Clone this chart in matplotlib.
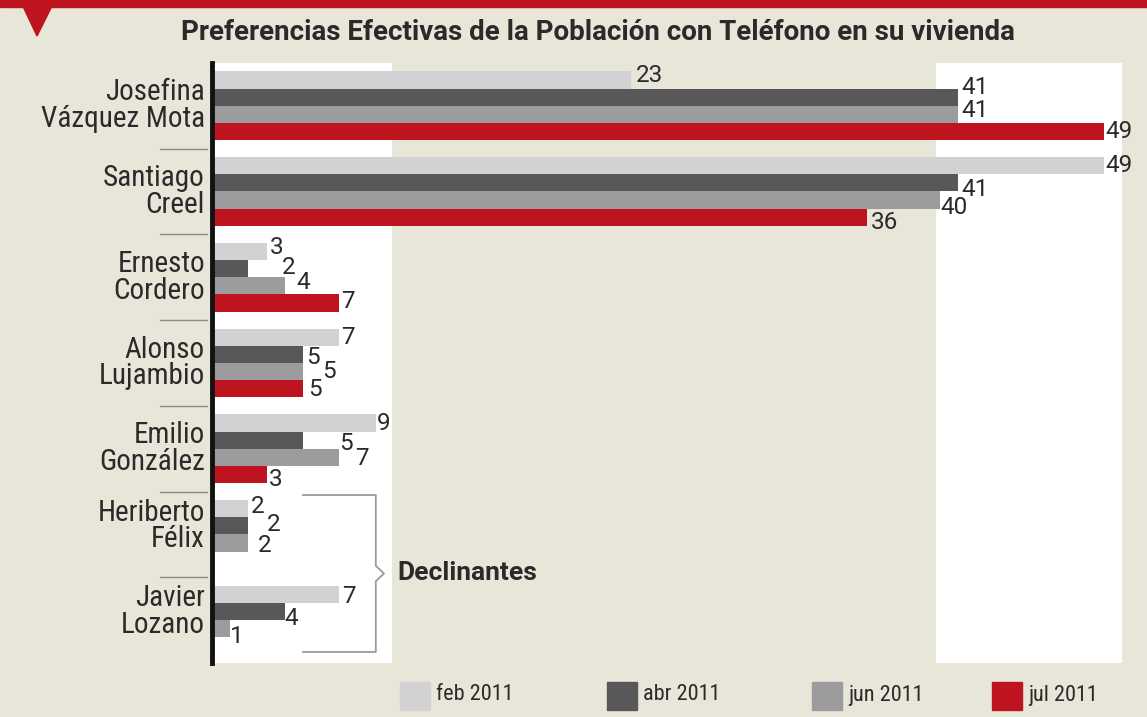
import numpy as np
import matplotlib
matplotlib.use("Agg")
import matplotlib.pyplot as plt
import matplotlib.font_manager as fm
import matplotlib.transforms as mtransforms
from matplotlib.patches import Rectangle, Polygon

# ---------------- data ----------------
candidates = ["Josefina\nVázquez Mota", "Santiago\nCreel", "Ernesto\nCordero",
              "Alonso\nLujambio", "Emilio\nGonzález", "Heriberto\nFélix",
              "Javier\nLozano"]
series_names = ["feb 2011", "abr 2011", "jun 2011", "jul 2011"]
feb_2011 = [23, 49, 3, 7, 9, 2, 7]
abr_2011 = [41, 41, 2, 5, 5, 2, 4]
jun_2011 = [41, 40, 4, 5, 7, 2, 1]
jul_2011 = [49, 36, 7, 5, 3, np.nan, np.nan]
title = "Preferencias Efectivas de la Población con Teléfono en su vivienda"
bracket_label = "Declinantes"

# ---------------- style ----------------
colors = ["#d2d2d4", "#58585b", "#9c9c9f", "#be1420"]
bg = "#e8e6d9"
red = "#be1420"
txt = "#2a2a2a"

names = {f.name for f in fm.fontManager.ttflist}
cond = next((n for n in ["Roboto Condensed", "Liberation Sans Narrow",
                         "DejaVu Sans"] if n in names), "DejaVu Sans")
wide = "Roboto" if "Roboto" in names else "DejaVu Sans"
plt.rcParams["font.family"] = [cond, "DejaVu Sans"]

# label offsets in pixels (dx, dy) per group/series
label_off = {
    (0, 0): (5, 5), (0, 1): (3, 10), (0, 2): (3, 4), (0, 3): (2, 0),
    (1, 0): (2, 0), (1, 1): (3, -7), (1, 2): (0, -7), (1, 3): (4, -5),
    (2, 0): (3, 4), (2, 1): (33, 1), (2, 2): (12, 3), (2, 3): (2, 1),
    (3, 0): (2, 0), (3, 1): (3, -3), (3, 2): (19, 0), (3, 3): (5, -1),
    (4, 0): (1, 0), (4, 1): (36, -3), (4, 2): (16, -1), (4, 3): (2, -5),
    (5, 0): (2, 2), (5, 1): (18, 1), (5, 2): (9, -2),
    (6, 0): (3, -2), (6, 1): (0, -7), (6, 2): (0, -8),
}

W, H = 1147, 717
fig = plt.figure(figsize=(W / 100, H / 100), dpi=100)
fig.patch.set_facecolor(bg)

# top red band and triangle
fig.patches.append(Rectangle((0, 1 - 7 / H), 1, 7 / H, transform=fig.transFigure,
                             color=red, zorder=0))
fig.patches.append(Polygon([(20 / W, 1), (55 / W, 1), (37 / W, 1 - 36 / H)],
                           closed=True, transform=fig.transFigure, color=red, zorder=0))

px_per_unit_x = 18.2
ax_left, ax_top, ax_bot = 212, 63, 663
ax = fig.add_axes([ax_left / W, 1 - ax_bot / H, (W - ax_left) / W, (ax_bot - ax_top) / H])
ax.set_facecolor("none")
ax.set_xlim(0, (W - ax_left) / px_per_unit_x)
bar_px = 17.15
first_c = 80
ax.set_ylim((ax_bot - first_c) / bar_px, -(first_c - ax_top) / bar_px)

# white panels
ax.axvspan(0, 9.9, color="white", zorder=0, lw=0)
ax.axvspan(39.8, 50.0, color="white", zorder=0, lw=0)

all_series = [feb_2011, abr_2011, jun_2011, jul_2011]
group_step = 5
for j, vals in enumerate(all_series):
    ys = np.arange(len(candidates)) * group_step + j
    v = np.array(vals, dtype=float)
    ok = ~np.isnan(v)
    ax.barh(ys[ok], v[ok], height=1.0, color=colors[j], lw=0, zorder=2)
    for i in np.where(ok)[0]:
        dx, dy = label_off.get((i, j), (3, 0))
        ax.annotate(f"{int(v[i])}", (v[i], ys[i]), xytext=(dx, dy),
                    textcoords="offset pixels", ha="left", va="center",
                    fontsize=17.5, family=[wide, "DejaVu Sans"], color=txt, zorder=3)

for s in ["top", "right", "bottom"]:
    ax.spines[s].set_visible(False)
ax.spines["left"].set_linewidth(3.5)
ax.spines["left"].set_color("#111111")
ax.spines["left"].set_zorder(4)
ax.set_xticks([])
ax.set_yticks([])

# category labels
blend = mtransforms.blended_transform_factory(fig.transFigure, ax.transData)
for i, name in enumerate(candidates):
    nb = 4 if not np.isnan(jul_2011[i]) else 3
    yc = i * group_step + (nb - 1) / 2
    ax.text(205 / W, yc, name, transform=blend, ha="right", va="center",
            fontsize=21, color=txt, linespacing=0.94)
    if i < len(candidates) - 1:
        ysep = i * group_step + 4
        ax.plot([160 / W, 207 / W], [ysep, ysep], transform=blend, color="#8a8a8a",
                lw=1.0, clip_on=False)

# bracket for "Declinantes"
yb0 = 5 * group_step - 0.8
yb1 = 6 * group_step + 3.35
ym = (yb0 + yb1) / 2
bx0, bx1, btip = 5.0, 9.0, 9.45
ax.plot([bx0, bx1, bx1, btip, bx1, bx1, bx0],
        [yb0, yb0, ym - 0.45, ym, ym + 0.45, yb1, yb1],
        color="#9a9a9a", lw=1.3, zorder=3, clip_on=False)
ax.text(10.2, ym, bracket_label, ha="left", va="center", fontsize=19,
        fontweight="bold", family=[wide, "DejaVu Sans"], color=txt)

# title
fig.text(598 / W, 1 - 33 / H, title, ha="center", va="center", fontsize=20,
         fontweight="bold", family=[wide, "DejaVu Sans"], color=txt)

# legend
leg_sq_x = [400, 607, 812, 992]
for j, name in enumerate(series_names):
    x0 = leg_sq_x[j]
    fig.patches.append(Rectangle((x0 / W, 1 - 710 / H), 30 / W, 28 / H,
                                 transform=fig.transFigure, color=colors[j]))
    fig.text((x0 + 36) / W, 1 - 695 / H, name, ha="left", va="center",
             fontsize=16, color=txt)

fig.savefig("out.png", dpi=100, facecolor=bg)
